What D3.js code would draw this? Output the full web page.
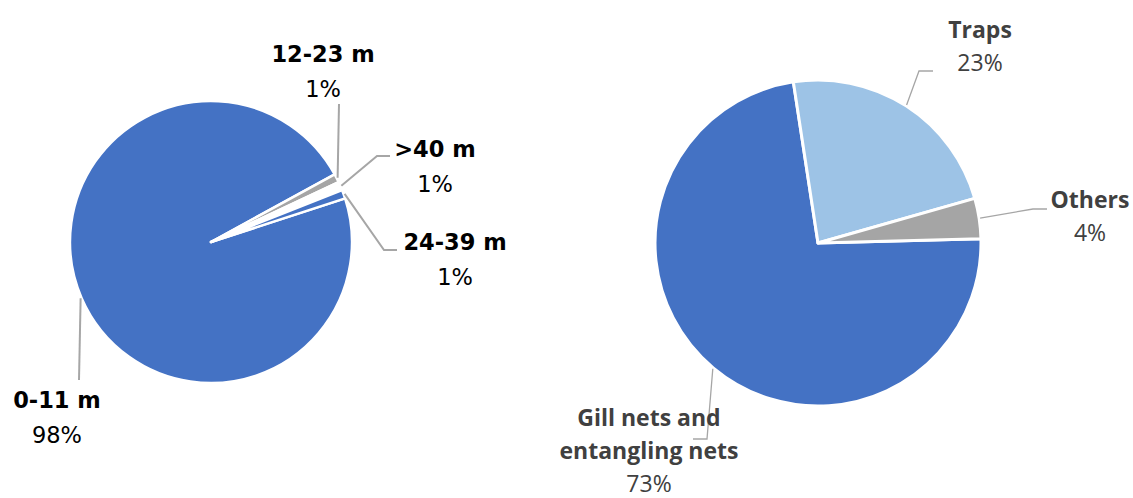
<!DOCTYPE html>
<html>
<head>
<meta charset="utf-8">
<script src="https://d3js.org/d3.v7.min.js"></script>
<style>
  body { margin: 0; background: #fff; }
  .lbl-name { font-weight: 700; }
</style>
</head>
<body>
<svg id="chart" width="1133" height="498"></svg>
<script>
  // vessel length (left pie)
  const lengthCategories = ["0-11 m", "12-23 m", ">40 m", "24-39 m"];
  const lengthValues = [98, 1, 1, 1];
  const lengthColors = ["#4472c4", "#a5a5a5", "#ffffff", "#4472c4"];

  // gear type (right pie)
  const gearCategories = ["Gill nets and entangling nets", "Traps", "Others"];
  const gearValues = [73, 23, 4];
  const gearColors = ["#4472c4", "#9dc3e6", "#a5a5a5"];

  // label placement: text anchor (first baseline) and leader elbow/end points
  const lengthLabels = [
    {lines: ["0-11 m"], tx: 57, ty: 408, path: [[79, 380]]},
    {lines: ["12-23 m"], tx: 323, ty: 62, path: [[339, 104]]},
    {lines: [">40 m"], tx: 435, ty: 157, path: [[377, 156], [390, 156]]},
    {lines: ["24-39 m"], tx: 455, ty: 250, path: [[384, 250], [397, 250]]}
  ];
  const gearLabels = [
    {lines: ["Gill nets and", "entangling nets"], tx: 649, ty: 426, path: [[707, 439], [693, 439]]},
    {lines: ["Traps"], tx: 980, ty: 38, path: [[919, 71], [933, 71]]},
    {lines: ["Others"], tx: 1090, ty: 208, path: [[1033, 209], [1047, 209]]}
  ];

  const svg = d3.select("#chart");
  const rad = deg => deg * Math.PI / 180;

  function drawPie(opts) {
    const g = svg.append("g").attr("transform", `translate(${opts.cx},${opts.cy})`);
    const data = opts.categories.map((c, i) => ({name: c, value: opts.values[i], color: opts.colors[i]}));

    const pie = d3.pie()
      .sort(null)
      .value(d => d.value)
      .startAngle(rad(opts.start))
      .endAngle(rad(opts.start + 360));

    const arc = d3.arc().innerRadius(0).outerRadius(opts.r);
    const arcs = pie(data);

    g.selectAll("path.slice")
      .data(arcs)
      .enter().append("path")
      .attr("class", "slice")
      .attr("d", arc)
      .attr("fill", d => d.data.color)
      .attr("stroke", "#fff")
      .attr("stroke-width", opts.strokeW)
      .attr("stroke-linejoin", "round");

    // leader lines + labels
    arcs.forEach((d, i) => {
      const lab = opts.labels[i];
      const mid = (d.startAngle + d.endAngle) / 2;
      const start = [opts.cx + Math.sin(mid) * (opts.r + 1), opts.cy - Math.cos(mid) * (opts.r + 1)];
      const pts = [start].concat(lab.path);

      svg.append("path")
        .attr("d", d3.line()(pts))
        .attr("fill", "none")
        .attr("stroke", opts.lineColor)
        .attr("stroke-width", opts.lineW);

      const t = svg.append("text")
        .attr("text-anchor", "middle")
        .attr("fill", opts.textColor)
        .style("font-family", opts.font)
        .style("font-size", opts.fontSize + "px");
      lab.lines.forEach((line, k) => {
        t.append("tspan")
          .attr("class", "lbl-name")
          .attr("x", lab.tx)
          .attr("y", lab.ty + k * opts.lineH)
          .text(line);
      });
      t.append("tspan")
        .attr("x", lab.tx)
        .attr("y", lab.ty + lab.lines.length * opts.lineH)
        .text(d3.format(".0f")(d.data.value) + "%");
    });
  }

  drawPie({
    cx: 211, cy: 242, r: 141, start: 72,
    categories: lengthCategories, values: lengthValues, colors: lengthColors,
    labels: lengthLabels, strokeW: 2.5,
    font: "'DejaVu Sans', sans-serif", fontSize: 22.5, lineH: 34.5,
    textColor: "#000000", lineColor: "#a6a6a6", lineW: 2
  });

  drawPie({
    cx: 818, cy: 243, r: 163, start: 88.5,
    categories: gearCategories, values: gearValues, colors: gearColors,
    labels: gearLabels, strokeW: 3,
    font: "'Open Sans', sans-serif", fontSize: 23, lineH: 33,
    textColor: "#404040", lineColor: "#a6a6a6", lineW: 1.3
  });
</script>
</body>
</html>
